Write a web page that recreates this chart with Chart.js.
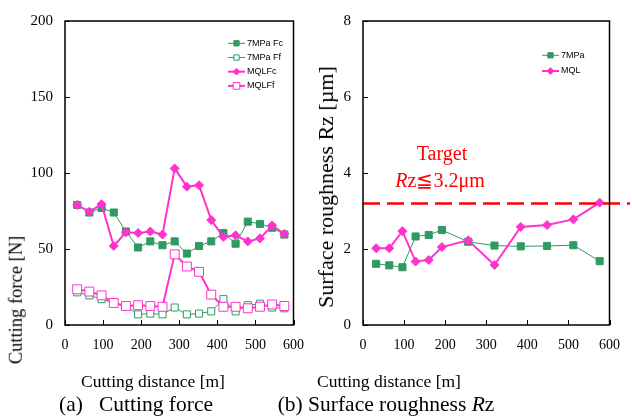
<!DOCTYPE html>
<html>
<head>
<meta charset="utf-8">
<script src="https://cdn.jsdelivr.net/npm/chart.js@4/dist/chart.umd.min.js"></script>
<style>
  html, body { margin: 0; padding: 0; background: #fff; }
  #wrap { position: relative; width: 632px; height: 418px; overflow: hidden; }
  canvas { position: absolute; top: 0; }
  .lbl {
    position: absolute; font-family: "Liberation Serif", "Times New Roman", serif;
    color: #000; line-height: 1; white-space: pre; transform: translate(-50%, -50%);
  }
  .rot { transform: translate(-50%, -50%) rotate(-90deg); }
  .red { color: #ff0000; }
</style>
</head>
<body>
<div id="wrap">
  <canvas id="force" width="316" height="418" style="left:0"></canvas>
  <canvas id="rough" width="316" height="418" style="left:316px"></canvas>

  <div class="lbl rot" style="left:16px; top:300px; font-size:18.5px;">Cutting force [N]</div>
  <div class="lbl rot" style="left:326px; top:187px; font-size:22px;">Surface roughness Rz [µm]</div>
  <div class="lbl" style="left:153px; top:382px; font-size:17.5px;">Cutting distance [m]</div>
  <div class="lbl" style="left:389px; top:382px; font-size:17.5px;">Cutting distance [m]</div>
  <div class="lbl" style="left:136px; top:405px; font-size:21.5px;">(a)   Cutting force</div>
  <div class="lbl" style="left:386px; top:405px; font-size:21.5px;">(b) Surface roughness <i>R</i>z</div>
  <div class="lbl red" style="left:442px; top:153px; font-size:20px;">Target</div>
  <div class="lbl red" style="left:440px; top:180px; font-size:20px;"><i>R</i>z≦3.2μm</div>
</div>

<script>
// cutting force, sampled every 32 m
const distanceForce = [32, 64, 96, 128, 160, 192, 224, 256, 288, 320, 352, 384, 416, 448, 480, 512, 544, 576];
const fc7MPa = [79, 74, 77, 74, 61.5, 51, 55, 52.5, 55, 47, 52, 55, 60.5, 53.5, 68, 66.5, 64, 59.5];
const ff7MPa = [21.5, 19.5, 17, 14.5, 12.5, 7, 7.5, 7, 11.5, 7, 7.5, 9, 17, 9, 13, 14, 11.5, 11];
const fcMQL = [79, 74.5, 79.5, 52, 61, 60.5, 61.5, 59.5, 103, 91, 92, 69, 58, 59, 55, 57, 65.5, 60];
const ffMQL = [23.5, 22, 19.5, 14.5, 12.5, 13, 12.5, 12, 46.5, 38.5, 35, 20, 12, 12, 11, 12, 13.5, 12.5];

// surface roughness Rz
const distanceRz = [32, 64, 96, 128, 160, 192, 256, 320, 384, 448, 512, 576];
const rz7MPa = [1.61, 1.57, 1.52, 2.33, 2.37, 2.50, 2.19, 2.09, 2.07, 2.08, 2.10, 1.68];
const rzMQL = [2.02, 2.02, 2.47, 1.67, 1.71, 2.05, 2.23, 1.58, 2.58, 2.63, 2.78, 3.22];

const rzTarget = 3.2;
const xTicks = [0, 100, 200, 300, 400, 500, 600];
const forceTicks = [0, 50, 100, 150, 200];
const rzTicks = [0, 2, 4, 6, 8];

const GREEN = '#2f9a62';
const PINK = '#ff33cc';
const SERIF = '"Liberation Serif", "Times New Roman", serif';
const SANS = '"Liberation Sans", Arial, sans-serif';

const pts = (xs, ys) => xs.map((x, i) => ({ x: x, y: ys[i] }));

// black box round the plot area plus inward tick marks
const frame = {
  id: 'frame',
  afterDraw(chart) {
    const { ctx, chartArea: a, scales } = chart;
    ctx.save();
    ctx.strokeStyle = '#000';
    ctx.lineWidth = 1.5;
    ctx.strokeRect(a.left, a.top, a.right - a.left, a.bottom - a.top);
    ctx.lineWidth = 1;
    ctx.beginPath();
    scales.x.ticks.forEach(t => {
      const px = Math.round(scales.x.getPixelForValue(t.value)) + 0.5;
      ctx.moveTo(px, a.bottom); ctx.lineTo(px, a.bottom - 5);
    });
    scales.y.ticks.forEach(t => {
      const py = Math.round(scales.y.getPixelForValue(t.value)) + 0.5;
      ctx.moveTo(a.left, py); ctx.lineTo(a.left + 5, py);
    });
    ctx.stroke();
    ctx.restore();
  }
};

// small legend inside the plot, styles taken from the datasets
const boxLegend = {
  id: 'boxLegend',
  afterDraw(chart, args, opts) {
    const { ctx } = chart;
    ctx.save();
    ctx.font = '9px ' + SANS;
    ctx.textBaseline = 'middle';
    chart.data.datasets.forEach((ds, i) => {
      const y = opts.y + i * opts.gap;
      ctx.strokeStyle = ds.borderColor;
      ctx.lineWidth = ds.borderWidth;
      ctx.beginPath();
      ctx.moveTo(opts.x, y); ctx.lineTo(opts.x + 17, y);
      ctx.stroke();
      ctx.fillStyle = ds.pointBackgroundColor;
      ctx.strokeStyle = ds.pointBorderColor;
      ctx.lineWidth = 1;
      Chart.helpers.drawPoint(ctx, {
        pointStyle: ds.pointStyle,
        radius: ds.pointRadius * 0.75,
        borderWidth: 1
      }, opts.x + 8.5, y);
      ctx.fillStyle = '#000';
      ctx.fillText(ds.label, opts.x + 19, y);
    });
    ctx.restore();
  }
};

// dashed target line, running past the right edge of the plot
const targetLine = {
  id: 'targetLine',
  afterDatasetsDraw(chart) {
    const { ctx, chartArea: a, scales } = chart;
    const y = scales.y.getPixelForValue(rzTarget);
    ctx.save();
    ctx.strokeStyle = '#ff0000';
    ctx.lineWidth = 2.5;
    ctx.setLineDash([17, 7]);
    ctx.beginPath();
    ctx.moveTo(a.left, y);
    ctx.lineTo(chart.width - 2, y);
    ctx.stroke();
    ctx.restore();
  }
};

function series(label, xs, ys, color, width, style, radius, filled, order) {
  return {
    label: label,
    data: pts(xs, ys),
    borderColor: color,
    borderWidth: width,
    pointStyle: style,
    pointRadius: radius,
    pointBorderWidth: 1,
    pointBorderColor: color,
    pointBackgroundColor: filled ? color : '#fff',
    tension: 0,
    order: order
  };
}

function axes(yMax, yTicks, yWidth) {
  return {
    x: {
      type: 'linear', min: 0, max: 600,
      grid: { display: false, drawTicks: false },
      border: { display: false },
      afterBuildTicks: s => { s.ticks = xTicks.map(v => ({ value: v })); },
      afterFit: s => { s.height = 30; },
      ticks: { color: '#000', padding: 12, font: { family: SERIF, size: 14 } }
    },
    y: {
      min: 0, max: yMax,
      grid: { display: false, drawTicks: false },
      border: { display: false },
      afterBuildTicks: s => { s.ticks = yTicks.map(v => ({ value: v })); },
      afterFit: s => { s.width = yWidth; },
      ticks: { color: '#000', padding: 12, font: { family: SERIF, size: 15 } }
    }
  };
}

new Chart(document.getElementById('force'), {
  type: 'line',
  data: {
    datasets: [
      series('7MPa Fc', distanceForce, fc7MPa, GREEN, 1, 'rect', 5, true, 4),
      series('7MPa Ff', distanceForce, ff7MPa, GREEN, 1, 'rect', 5, false, 3),
      series('MQLFc', distanceForce, fcMQL, PINK, 2, 'rectRot', 4.5, true, 2),
      series('MQLFf', distanceForce, ffMQL, PINK, 2, 'rect', 6.3, false, 1)
    ]
  },
  options: {
    responsive: false,
    animation: false,
    layout: { padding: { left: 0, right: 12, top: 19, bottom: 63 } },
    scales: axes(200, forceTicks, 65),
    plugins: {
      legend: { display: false },
      tooltip: { enabled: false },
      boxLegend: { x: 228, y: 43.3, gap: 14.2 }
    }
  },
  plugins: [frame, boxLegend]
});

new Chart(document.getElementById('rough'), {
  type: 'line',
  data: {
    datasets: [
      series('7MPa', distanceRz, rz7MPa, GREEN, 1, 'rect', 5, true, 2),
      series('MQL', distanceRz, rzMQL, PINK, 2, 'rectRot', 4.5, true, 1)
    ]
  },
  options: {
    responsive: false,
    animation: false,
    layout: { padding: { left: 0, right: 22, top: 19, bottom: 63 } },
    scales: axes(8, rzTicks, 47),
    plugins: {
      legend: { display: false },
      tooltip: { enabled: false },
      boxLegend: { x: 226, y: 55.3, gap: 15.7 }
    }
  },
  plugins: [frame, targetLine, boxLegend]
});
</script>
</body>
</html>
